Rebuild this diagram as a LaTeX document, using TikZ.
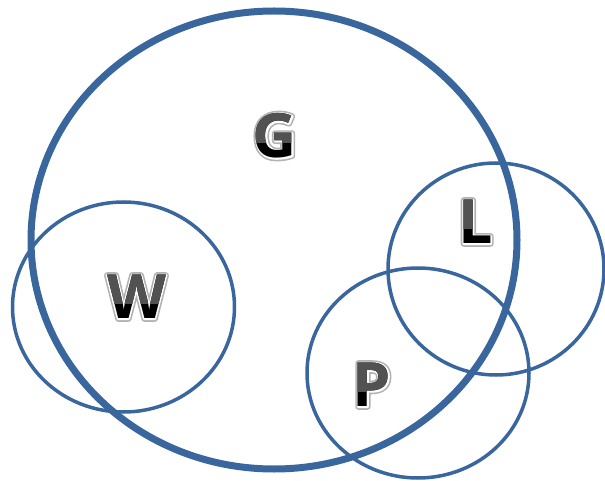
\documentclass[tikz,border=0pt]{standalone}
\usepackage{fontspec}
\setmainfont{Open Sans}
\usetikzlibrary{calc}
\definecolor{ringblue}{RGB}{58,102,158}
\tikzset{
  lettr/.style={inner sep=0pt, font=\fontsize{61}{61}\selectfont\bfseries},
  bigring/.style={draw=ringblue, line width=7pt},
  smallring/.style={draw=ringblue, line width=3.5pt},
}
\newcommand{\strk}[2]{\special{pdf:literal direct 2 Tr 1 j 1 J #1 w}#2\special{pdf:literal direct 0 Tr 0 j 0 J}}
\newcommand{\glowletter}[3]{%
  \node[lettr, text=black!30] at (#2) {\strk{6}{#3}};
  \node[lettr, text=white] at (#2) {\strk{2.8}{#3}};
  \node[lettr, text=black] (#1) at (#2) {#3};
  \begin{scope}
    \clip ($(#2)+(-60,-60)$) rectangle ($(#2)+(60,6.5)$);
    \node[lettr, text=black!68] at (#2) {#3};
  \end{scope}
}
\begin{document}
\begin{tikzpicture}[x=1pt,y=-1pt]
\useasboundingbox (0,0) rectangle (605,481);
% circles
\draw[bigring] (274,240) ellipse [x radius=243, y radius=229];
\draw[smallring] (123.5,307) ellipse [x radius=111, y radius=105];
\draw[smallring] (496,269) ellipse [x radius=108, y radius=106];
\draw[smallring] (418,373) ellipse [x radius=111, y radius=105];
% letters
\coordinate (pG) at (275,136);
\coordinate (pW) at (136.5,297);
\coordinate (pL) at (475.5,222);
\coordinate (pP) at (372,385);
\glowletter{G}{pG}{G}
\glowletter{W}{pW}{W}
\glowletter{L}{pL}{L}
\glowletter{P}{pP}{P}
\end{tikzpicture}
\end{document}
